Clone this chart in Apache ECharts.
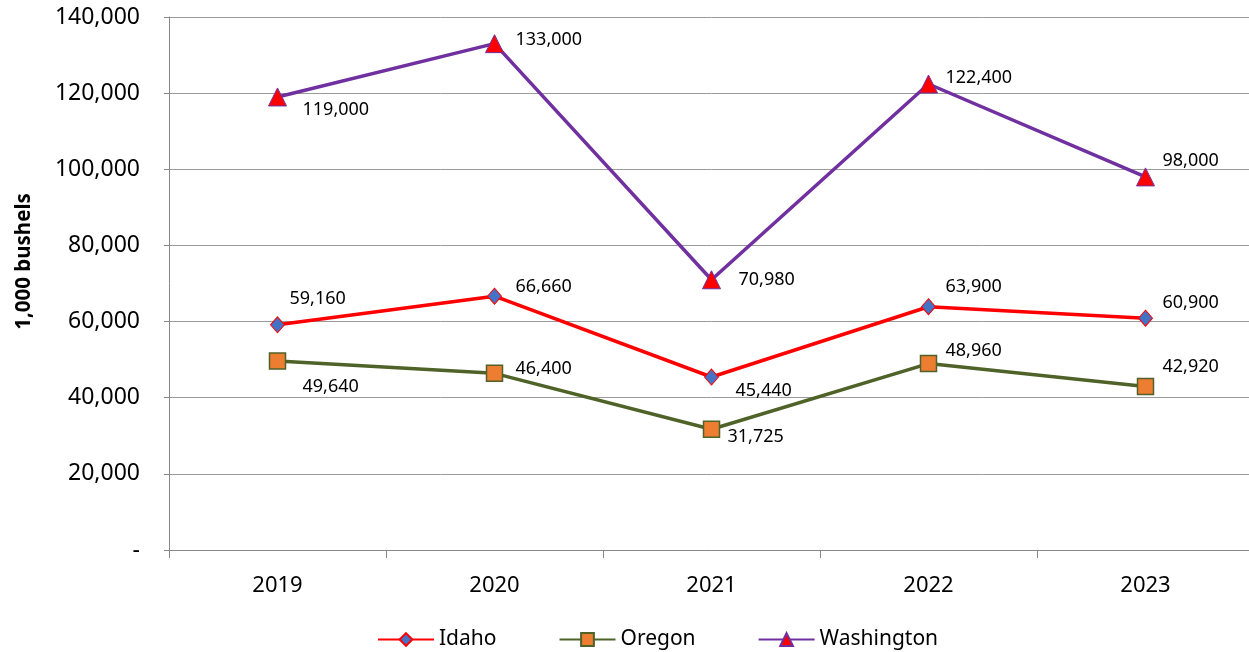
<!DOCTYPE html>
<html><head><meta charset="utf-8">
<script src="https://cdn.jsdelivr.net/npm/echarts@6/dist/echarts.min.js"></script>
<style>html,body{margin:0;padding:0;background:#fff;overflow:hidden}#c{width:1254px;height:652px}</style>
</head><body><div id="c"></div>
<script>
const years = ['2019','2020','2021','2022','2023'];
const idaho = [59160, 66660, 45440, 63900, 60900];
const oregon = [49640, 46400, 31725, 48960, 42920];
const washington = [119000, 133000, 70980, 122400, 98000];
const seriesNames = ['Idaho','Oregon','Washington'];

// label offsets (style only)
const idahoOff = [[12,-26],[21,-9],[24,14],[17,-20],[17,-15]];
const oregonOff = [[25,26],[21,-4],[16,8],[17,-13],[17,-20]];
const washOff = [[25,13],[21,-4],[27,0],[17,-6],[17,-16]];

const fmt = v => v.toLocaleString('en-US');
const FONT = 'Noto Sans';

function mk(vals, offs){
  return vals.map((v,i)=>({value:v, label:{offset:offs[i]}}));
}
const lbl = {show:true, position:'inside', align:'left', verticalAlign:'middle', fontFamily:FONT, fontSize:18, color:'#000', formatter:p=>fmt(p.value)};

const chart = echarts.init(document.getElementById('c'));
chart.setOption({
  animation:false,
  textStyle:{fontFamily:FONT},
  grid:{left:169, top:17, right:0, bottom:102, containLabel:false},
  legend:{top:624, left:372, itemWidth:56, itemHeight:16, itemGap:62, textStyle:{fontFamily:FONT, fontSize:21, color:'#000'},
    data:seriesNames},
  xAxis:{type:'category', data:years, boundaryGap:true,
    axisLine:{lineStyle:{color:'#888', width:1}},
    axisTick:{show:true, length:8, lineStyle:{color:'#888'}},
    axisLabel:{fontFamily:FONT, fontSize:22, color:'#000', margin:25}},
  yAxis:{type:'value', min:0, max:140000, interval:20000,
    name:'1,000 bushels', nameLocation:'middle', nameGap:134, nameRotate:90,
    nameTextStyle:{fontFamily:FONT, fontSize:20.5, fontWeight:'bold', color:'#000', padding:[0,0,0,44]},
    axisLine:{show:true, lineStyle:{color:'#888'}},
    axisTick:{show:true, length:5, inside:false, lineStyle:{color:'#888'}},
    splitLine:{lineStyle:{color:'#9a9a9a', width:1}},
    axisLabel:{fontFamily:FONT, fontSize:23, color:'#000', margin:29, formatter:v=> v===0?'-':fmt(v)}},
  series:[
    {name:'Idaho', type:'line', data:mk(idaho,idahoOff), symbol:'diamond', symbolSize:[14,16],
      lineStyle:{color:'#FF0000', width:3.5}, itemStyle:{color:'#4472C4', borderColor:'#FF0000', borderWidth:1}, label:lbl, z:3},
    {name:'Oregon', type:'line', data:mk(oregon,oregonOff), symbol:'rect', symbolSize:16,
      lineStyle:{color:'#4F6228', width:3.5}, itemStyle:{color:'#ED7D31', borderColor:'#4F6228', borderWidth:1.5}, label:lbl, z:3},
    {name:'Washington', type:'line', data:mk(washington,washOff), symbol:'triangle', symbolSize:18,
      lineStyle:{color:'#7030A0', width:3.5}, itemStyle:{color:'#FF0000', borderColor:'#7030A0', borderWidth:1}, label:lbl, z:3}
  ]
});
</script></body></html>
